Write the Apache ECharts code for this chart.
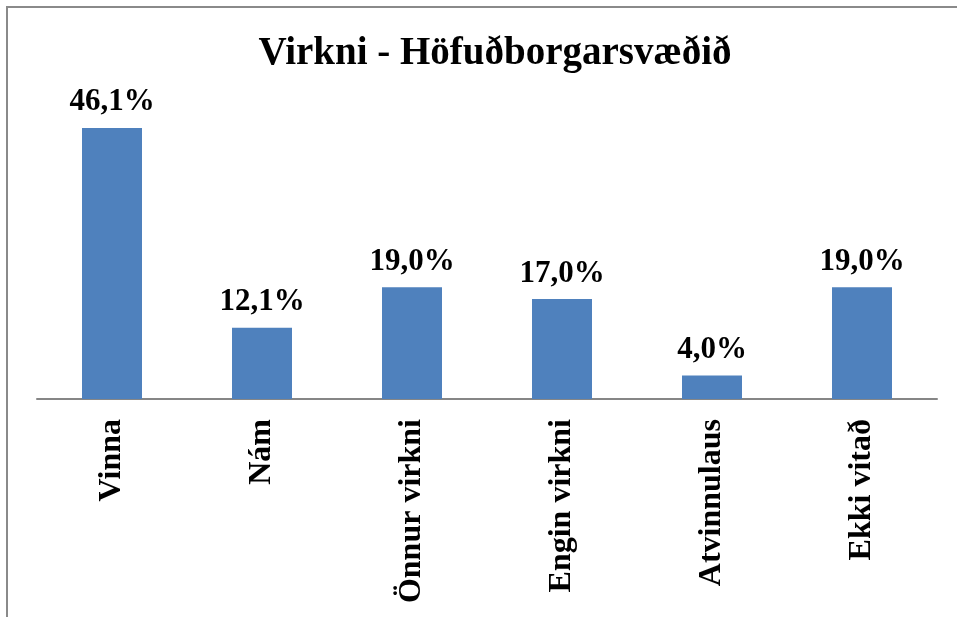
<!DOCTYPE html>
<html>
<head>
<meta charset="utf-8">
<script src="https://cdn.jsdelivr.net/npm/echarts@6/dist/echarts.min.js"></script>
<style>
html,body{margin:0;padding:0;background:#fff;}
#chart{width:957px;height:617px;}
</style>
</head>
<body>
<div id="chart"></div>
<script>
const titleText = 'Virkni - Höfuðborgarsvæðið';
const categories = ['Vinna', 'Nám', 'Önnur virkni', 'Engin virkni', 'Atvinnulaus', 'Ekki vitað'];
const values = [46.1, 12.1, 19.0, 17.0, 4.0, 19.0];

const chart = echarts.init(document.getElementById('chart'), null, {renderer: 'canvas'});
const serif = '"Liberation Serif", "Times New Roman", serif';
chart.setOption({
  backgroundColor: '#ffffff',
  animation: false,
  title: {
    text: titleText,
    left: 490,
    top: 29,
    textAlign: 'center',
    textStyle: {fontFamily: serif, fontWeight: 'bold', fontSize: 39, color: '#000'}
  },
  graphic: [{
    type: 'rect',
    shape: {x: 7, y: 7, width: 1000, height: 700},
    style: {fill: 'none', stroke: '#8a8a8a', lineWidth: 2},
    silent: true
  }],
  grid: {left: 37, right: 20, top: 105, bottom: 218, containLabel: false},
  xAxis: {
    type: 'category',
    data: categories,
    axisLine: {show: true, lineStyle: {color: '#868686', width: 2}},
    axisTick: {show: false},
    axisLabel: {
      rotate: 90,
      margin: 20,
      interval: 0,
      fontFamily: serif,
      fontWeight: 'bold',
      fontSize: 32,
      color: '#000'
    }
  },
  yAxis: {
    type: 'value',
    min: 0,
    max: 50,
    show: false,
    splitLine: {show: false}
  },
  series: [{
    type: 'bar',
    data: values,
    barWidth: '40%',
    itemStyle: {color: '#4F81BD'},
    label: {
      show: true,
      position: 'top',
      distance: 10,
      formatter: p => p.value.toFixed(1).replace('.', ',') + '%',
      fontFamily: serif,
      fontWeight: 'bold',
      fontSize: 31,
      color: '#000'
    }
  }]
});
</script>
</body>
</html>
